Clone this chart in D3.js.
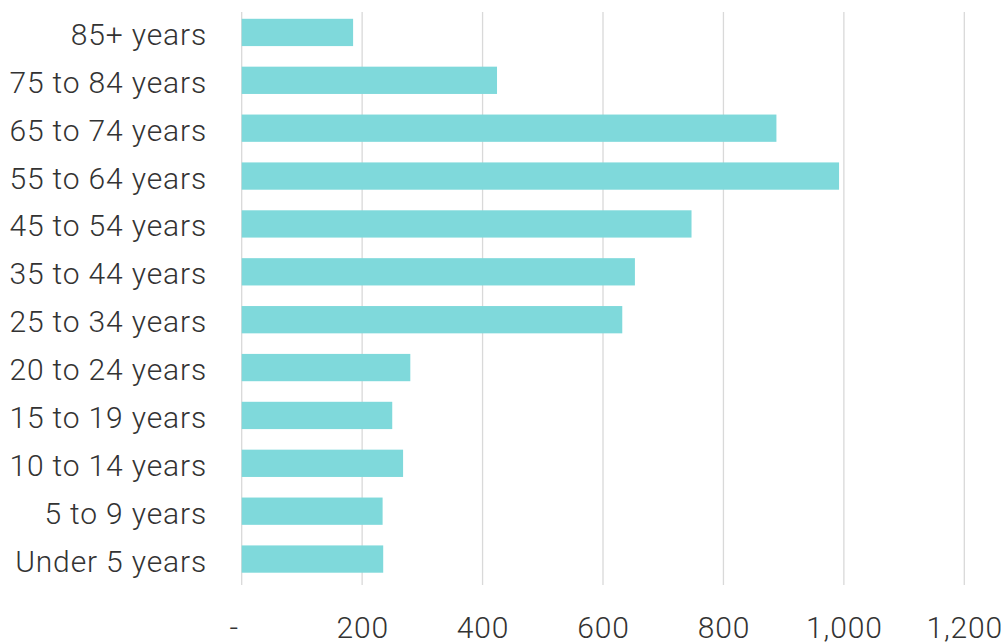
<!DOCTYPE html>
<html><head><meta charset="utf-8">
<script src="https://cdn.jsdelivr.net/npm/d3@7"></script>
<style>body{margin:0;background:#fff;}svg{display:block;}</style>
</head><body>
<svg id="c" width="1001" height="643"></svg>
<script>
const categories = ["85+ years","75 to 84 years","65 to 74 years","55 to 64 years","45 to 54 years","35 to 44 years","25 to 34 years","20 to 24 years","15 to 19 years","10 to 14 years","5 to 9 years","Under 5 years"];
const values = [185,424,888,992,747,653,632,280,250,268,234,235];
const tickValues = [0,200,400,600,800,1000,1200];
const tickLabels = ["-","200","400","600","800","1,000","1,200"];

const svg = d3.select("#c");
const x = d3.scaleLinear().domain([0,1200]).range([241.7,964.3]);
const y = d3.scaleBand().domain(categories).range([8.5,583]).paddingInner(0.43).paddingOuter(0.215);
const font = "Roboto, sans-serif";

// gridlines
svg.append("g").selectAll("line").data(tickValues).join("line")
  .attr("x1",d=>x(d)).attr("x2",d=>x(d)).attr("y1",12).attr("y2",585)
  .attr("stroke","#d9d9d9").attr("stroke-width",1.3);

// bars
svg.append("g").selectAll("rect").data(values).join("rect")
  .attr("x",x(0)).attr("y",(d,i)=>y(categories[i]))
  .attr("width",d=>x(d)-x(0)).attr("height",y.bandwidth())
  .attr("fill","#7fd9db");

// y axis labels
const yAxis = d3.axisLeft(y).tickSize(0).tickPadding(0);
const ya = svg.append("g").attr("transform","translate(207,2)").call(yAxis);
ya.select(".domain").remove();
ya.selectAll("text").attr("font-family",font).attr("font-weight",300).attr("font-size",30)
  .attr("letter-spacing","0.85px").attr("fill","#333").attr("dy","0.35em").attr("x",0);

// x axis labels
const xAxis = d3.axisBottom(x).tickValues(tickValues).tickFormat((d,i)=>tickLabels[i]).tickSize(0).tickPadding(0);
const xa = svg.append("g").attr("transform","translate(0,616)").call(xAxis);
xa.select(".domain").remove();
xa.selectAll("text").attr("font-family",font).attr("font-weight",300).attr("font-size",30)
  .attr("letter-spacing","0.85px").attr("fill","#333").attr("dy","0.73em")
  .attr("dx",(d)=>d===0?-8:0);
</script>
</body></html>
